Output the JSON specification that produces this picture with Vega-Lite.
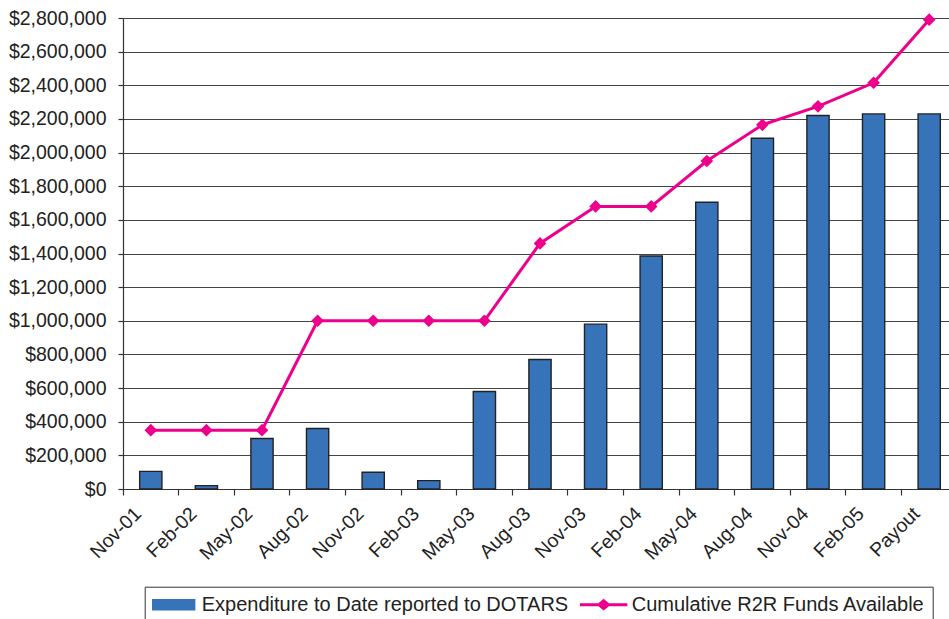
{
  "$schema": "https://vega.github.io/schema/vega-lite/v6.json",
  "width": 834,
  "height": 471,
  "autosize": "none",
  "padding": {"left": 123, "top": 18, "right": -8, "bottom": 130},
  "background": "white",
  "config": {
    "font": "Liberation Sans",
    "view": {"stroke": null},
    "axis": {
      "labelFont": "Liberation Sans",
      "labelFontSize": 19.5,
      "labelColor": "#222222",
      "domainColor": "#333333",
      "tickColor": "#333333",
      "domainWidth": 1.2,
      "tickWidth": 1.2
    },
    "axisY": {
      "title": null,
      "format": "$,.0f",
      "values": [0, 200000, 400000, 600000, 800000, 1000000, 1200000, 1400000, 1600000, 1800000, 2000000, 2200000, 2400000, 2600000, 2800000],
      "labelOverlap": false,
      "grid": true,
      "gridColor": "#444444",
      "gridWidth": 1,
      "tickSize": 5,
      "labelPadding": 12
    }
  },
  "data": {
    "values": [
      {"period": "Nov-01", "expenditure": 105000, "funds": 350000},
      {"period": "Feb-02", "expenditure": 20000, "funds": 350000},
      {"period": "May-02", "expenditure": 300000, "funds": 350000},
      {"period": "Aug-02", "expenditure": 360000, "funds": 1000000},
      {"period": "Nov-02", "expenditure": 100000, "funds": 1000000},
      {"period": "Feb-03", "expenditure": 50000, "funds": 1000000},
      {"period": "May-03", "expenditure": 580000, "funds": 1000000},
      {"period": "Aug-03", "expenditure": 770000, "funds": 1460000},
      {"period": "Nov-03", "expenditure": 980000, "funds": 1680000},
      {"period": "Feb-04", "expenditure": 1385000, "funds": 1680000},
      {"period": "May-04", "expenditure": 1705000, "funds": 1950000},
      {"period": "Aug-04", "expenditure": 2085000, "funds": 2165000},
      {"period": "Nov-04", "expenditure": 2220000, "funds": 2275000},
      {"period": "Feb-05", "expenditure": 2230000, "funds": 2415000},
      {"period": "Payout", "expenditure": 2230000, "funds": 2790000}
    ]
  },
  "encoding": {
    "x": {
      "field": "period",
      "type": "nominal",
      "sort": null,
      "scale": {"type": "band", "paddingInner": 0, "paddingOuter": 0},
      "axis": {
        "title": null,
        "bandPosition": 0,
        "labelAngle": -45,
        "labelOffset": -19,
        "labelPadding": 9,
        "labelOverlap": false,
        "tickSize": 6,
        "grid": false
      }
    }
  },
  "layer": [
    {
      "mark": {"type": "bar", "width": {"band": 0.4}, "stroke": "#222222", "strokeWidth": 1.4},
      "encoding": {
        "y": {
          "field": "expenditure",
          "type": "quantitative",
          "scale": {"domain": [0, 2800000], "nice": false}
        },
        "color": {
          "datum": "Expenditure to Date reported to DOTARS",
          "type": "nominal",
          "scale": {
            "domain": ["Expenditure to Date reported to DOTARS", "Cumulative R2R Funds Available"],
            "range": ["#3673B9", "#EC008C"]
          },
          "legend": {
            "title": null,
            "orient": "none",
            "legendX": 21.7,
            "legendY": 568.7,
            "direction": "horizontal",
            "strokeColor": "#333333",
            "padding": 7,
            "symbolSize": 400,
            "symbolOffset": 11,
            "symbolType": {"expr": "datum.value == 'Cumulative R2R Funds Available' ? 'M-2.3,-0.08L2.3,-0.08L2.3,0.08L-2.3,0.08ZM0,-0.5L0.6,0L0,0.5L-0.6,0Z' : 'M-2.1,-0.5L2.1,-0.5L2.1,0.5L-2.1,0.5Z'"},
            "symbolStrokeColor": {"expr": "datum.value == 'Cumulative R2R Funds Available' ? '#EC008C' : '#222222'"},
            "symbolStrokeWidth": 1.4,
            "symbolOpacity": 1,
            "labelFont": "Liberation Sans",
            "labelFontSize": 20,
            "labelColor": "#222222",
            "labelLimit": 1000,
            "labelOffset": 17,
            "columnPadding": 9
          }
        }
      }
    },
    {
      "mark": {
        "type": "line",
        "strokeWidth": 3,
        "point": {"shape": "diamond", "size": 160, "filled": true, "opacity": 1}
      },
      "encoding": {
        "y": {"field": "funds", "type": "quantitative"},
        "color": {"datum": "Cumulative R2R Funds Available", "type": "nominal"}
      }
    }
  ]
}
